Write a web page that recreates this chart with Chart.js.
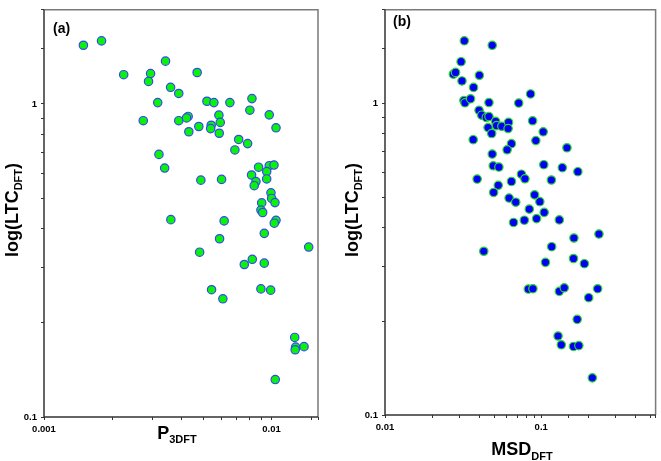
<!DOCTYPE html>
<html>
<head>
<meta charset="utf-8">
<script src="https://cdn.jsdelivr.net/npm/chart.js@4.4.1/dist/chart.umd.min.js"></script>
<style>
  body { margin: 0; background: #fff; }
  #wrap { position: relative; width: 661px; height: 461px; }
  .panel { position: absolute; top: 0; }
</style>
</head>
<body>
<div id="wrap">
  <div class="panel" style="left:0"><canvas id="chartA" width="330" height="461"></canvas></div>
  <div class="panel" style="left:330px"><canvas id="chartB" width="331" height="461"></canvas></div>
</div>
<script>
// ---- panel (a): LTC vs P3DFT ----
const p3dft = [
  0.00149, 0.00179, 0.00342, 0.00224, 0.00294, 0.00288, 0.00471, 0.00360, 0.00391, 0.00316,
  0.00520, 0.00558, 0.00656, 0.00820, 0.00803, 0.00977, 0.00273, 0.00391, 0.00430, 0.00423,
  0.00587, 0.00595, 0.00543, 0.00540, 0.00479, 0.00433, 0.00589, 0.01046, 0.00717, 0.00785,
  0.00690, 0.00320, 0.00339, 0.00489, 0.00603, 0.00877, 0.00977, 0.01025, 0.00952, 0.00817,
  0.00952, 0.00854, 0.00839, 0.00994, 0.01001, 0.01035, 0.00905, 0.00898, 0.00914, 0.00361,
  0.00619, 0.01046, 0.01028, 0.00929, 0.00591, 0.00483, 0.01456, 0.00759, 0.00823, 0.00929,
  0.00545, 0.00611, 0.00898, 0.00991, 0.01264, 0.01276, 0.01389, 0.01038, 0.01270
];
const ltcA = [
  1.54, 1.59, 1.37, 1.24, 1.25, 1.18, 1.26, 1.13, 1.08, 1.01,
  1.02, 1.01, 1.01, 1.04, 0.955, 0.923, 0.884, 0.884, 0.912, 0.902,
  0.921, 0.873, 0.855, 0.834, 0.847, 0.815, 0.806, 0.839, 0.770, 0.747,
  0.713, 0.690, 0.624, 0.571, 0.574, 0.628, 0.635, 0.638, 0.608, 0.593,
  0.576, 0.565, 0.548, 0.520, 0.499, 0.484, 0.483, 0.458, 0.450, 0.427,
  0.423, 0.425, 0.416, 0.386, 0.371, 0.336, 0.349, 0.307, 0.319, 0.310,
  0.255, 0.2385, 0.2566, 0.2542, 0.1795, 0.1673, 0.1678, 0.1317, 0.164
];

// ---- panel (b): LTC vs MSD ----
const msd = [
  0.0322, 0.0486, 0.0307, 0.0274, 0.0283, 0.0402, 0.0311, 0.0369, 0.0855, 0.0320,
  0.0325, 0.0353, 0.0463, 0.0718, 0.0400, 0.0416, 0.0445, 0.0463, 0.0511, 0.0518,
  0.0560, 0.0618, 0.0614, 0.0457, 0.0482, 0.0881, 0.1030, 0.0924, 0.0367, 0.0645,
  0.0605, 0.0486, 0.1462, 0.1039, 0.1365, 0.1717, 0.0493, 0.0536, 0.0747, 0.0787,
  0.0645, 0.0389, 0.1162, 0.0531, 0.0496, 0.0907, 0.0980, 0.0623, 0.0687, 0.0839,
  0.1045, 0.0934, 0.0780, 0.0665, 0.1306, 0.2343, 0.1620, 0.0429, 0.1167, 0.1065,
  0.1610, 0.1890, 0.0827, 0.0885, 0.1306, 0.1405, 0.2299, 0.2015, 0.1700, 0.1282,
  0.1345, 0.1610, 0.1742, 0.2125
];
const ltcB = [
  1.589, 1.537, 1.362, 1.242, 1.258, 1.231, 1.181, 1.126, 1.073, 1.022,
  1.005, 1.035, 1.007, 1.003, 0.951, 0.917, 0.902, 0.908, 0.876, 0.849,
  0.845, 0.870, 0.831, 0.837, 0.801, 0.880, 0.811, 0.760, 0.765, 0.743,
  0.710, 0.688, 0.721, 0.636, 0.622, 0.604, 0.631, 0.625, 0.593, 0.573,
  0.562, 0.572, 0.568, 0.546, 0.518, 0.509, 0.484, 0.497, 0.482, 0.458,
  0.447, 0.427, 0.422, 0.415, 0.423, 0.381, 0.370, 0.3355, 0.347, 0.309,
  0.318, 0.306, 0.2537, 0.2543, 0.2494, 0.2561, 0.2543, 0.238, 0.2028, 0.1793,
  0.168, 0.166, 0.167, 0.1316
];

// axis labels and ranges
const xLabelsA = [0.001, 0.01];
const xLabelsB = [0.01, 0.1];
const yLabels = [0.1, 1];

const FONT = 'Arial, "Liberation Sans", sans-serif';

function labelIf(list) {
  return function(value) {
    return list.some(v => Math.abs(v - value) / v < 1e-6) ? String(value) : '';
  };
}

// draws main text + subscript pieces, optionally rotated
function drawParts(ctx, parts, cx, cy, rotate) {
  ctx.save();
  ctx.translate(cx, cy);
  if (rotate) ctx.rotate(-Math.PI / 2);
  let total = 0;
  parts.forEach(p => { ctx.font = 'bold ' + p.size + 'px ' + FONT; total += ctx.measureText(p.text).width; });
  let x = -total / 2;
  ctx.fillStyle = '#000';
  ctx.textBaseline = 'alphabetic';
  ctx.textAlign = 'left';
  parts.forEach(p => {
    ctx.font = 'bold ' + p.size + 'px ' + FONT;
    ctx.fillText(p.text, x, p.dy || 0);
    x += ctx.measureText(p.text).width;
  });
  ctx.restore();
}

function framePlugin(cfg) {
  return {
    id: 'frame',
    afterDraw(chart) {
      const ctx = chart.ctx;
      const a = chart.chartArea;
      ctx.save();
      ctx.lineWidth = 1.5;
      ctx.strokeStyle = '#7a7a7a';
      ctx.beginPath();
      ctx.moveTo(a.left, a.top); ctx.lineTo(a.right, a.top); ctx.lineTo(a.right, a.bottom);
      ctx.stroke();
      ctx.strokeStyle = '#333';
      ctx.beginPath();
      ctx.moveTo(a.left, a.top); ctx.lineTo(a.left, a.bottom); ctx.lineTo(a.right, a.bottom);
      ctx.stroke();
      ctx.restore();

      // panel tag
      ctx.save();
      ctx.font = 'bold 14px ' + FONT;
      ctx.fillStyle = '#000';
      ctx.fillText(cfg.tag, cfg.tagX, cfg.tagY);
      ctx.restore();

      drawParts(ctx, [
        { text: 'log(LTC', size: 18 },
        { text: 'DFT', size: 11, dy: 4 },
        { text: ')', size: 18 }
      ], cfg.yTitleX, cfg.yTitleY, true);
      drawParts(ctx, cfg.xTitle, cfg.xTitleX, cfg.xTitleY, false);
    }
  };
}

function makeChart(id, xs, ys, opts) {
  const ctx = document.getElementById(id);
  const points = xs.map((x, i) => ({ x: x, y: ys[i] }));
  const tickFont = { family: FONT, size: 9.5, weight: 'bold' };
  new Chart(ctx, {
    type: 'scatter',
    data: {
      datasets: [{
        data: points,
        backgroundColor: opts.fill,
        borderColor: opts.border,
        borderWidth: 1.2,
        pointRadius: 4.2,
        pointHoverRadius: 4.2
      }]
    },
    options: {
      responsive: false,
      animation: false,
      events: [],
      layout: { padding: opts.padding },
      plugins: { legend: { display: false }, tooltip: { enabled: false } },
      scales: {
        x: {
          type: 'logarithmic',
          min: opts.xMin,
          max: opts.xMax,
          border: { display: false },
          grid: { drawOnChartArea: false, drawTicks: true, tickLength: 3, tickColor: '#333', tickWidth: 1 },
          ticks: { autoSkip: false, maxRotation: 0, padding: 4, color: '#000', font: tickFont,
                   callback: labelIf(opts.xLabels) },
          afterFit(scale) { scale.height = opts.xHeight; }
        },
        y: {
          type: 'logarithmic',
          min: 0.1,
          max: 2,
          border: { display: false },
          grid: { drawOnChartArea: false, drawTicks: true, tickLength: 3, tickColor: '#333', tickWidth: 1 },
          ticks: { autoSkip: false, padding: 4, color: '#000', font: tickFont,
                   callback: labelIf(yLabels) },
          afterFit(scale) { scale.width = opts.yWidth; }
        }
      }
    },
    plugins: [framePlugin(opts)]
  });
}

makeChart('chartA', p3dft, ltcA, {
  fill: '#0af20a', border: '#3448f2',
  xMin: 0.001, xMax: 0.016, xLabels: xLabelsA,
  padding: { left: 0, right: 12, top: 3, bottom: 0 },
  yWidth: 44, xHeight: 44,
  tag: '(a)', tagX: 53, tagY: 33,
  yTitleX: 18, yTitleY: 210,
  xTitle: [{ text: 'P', size: 18 }, { text: '3DFT', size: 11, dy: 4 }],
  xTitleX: 177, xTitleY: 439
});

makeChart('chartB', msd, ltcB, {
  fill: '#0000f5', border: '#2fd82f',
  xMin: 0.01, xMax: 0.54, xLabels: xLabelsB,
  padding: { left: 0, right: 3, top: 2, bottom: 0 },
  yWidth: 55, xHeight: 46,
  tag: '(b)', tagX: 63, tagY: 26,
  yTitleX: 28, yTitleY: 210,
  xTitle: [{ text: 'MSD', size: 18 }, { text: 'DFT', size: 11, dy: 5 }],
  xTitleX: 192, xTitleY: 455
});
</script>
</body>
</html>
